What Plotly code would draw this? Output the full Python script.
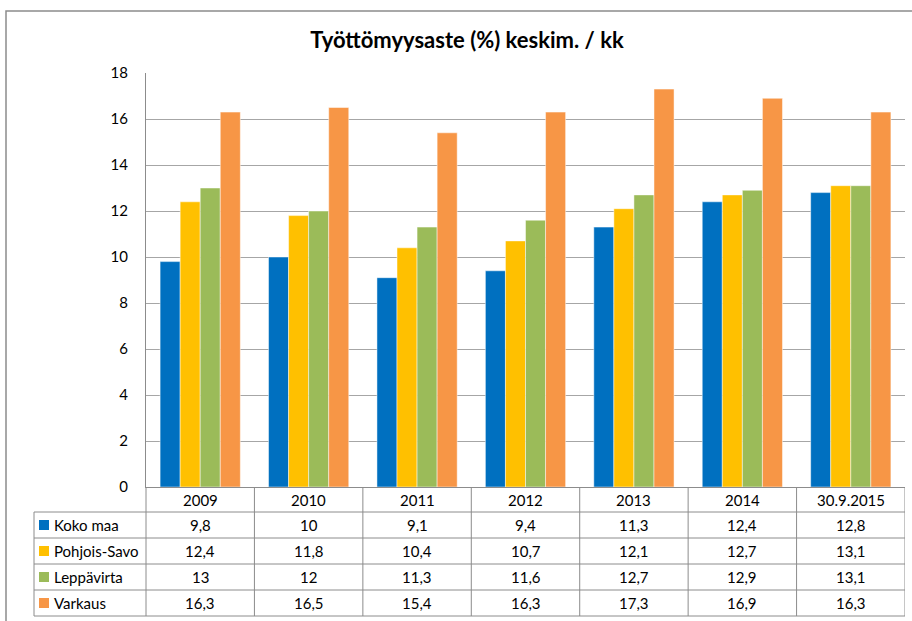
import plotly.graph_objects as go

# Työttömyysaste (%) keskimäärin kuukaudessa
vuodet = ['2009', '2010', '2011', '2012', '2013', '2014', '30.9.2015']
koko_maa = [9.8, 10, 9.1, 9.4, 11.3, 12.4, 12.8]
pohjois_savo = [12.4, 11.8, 10.4, 10.7, 12.1, 12.7, 13.1]
leppavirta = [13, 12, 11.3, 11.6, 12.7, 12.9, 13.1]
varkaus = [16.3, 16.5, 15.4, 16.3, 17.3, 16.9, 16.3]

sarjat = [
    ('Koko maa', koko_maa, '#0070C0'),
    ('Pohjois-Savo', pohjois_savo, '#FFC000'),
    ('Leppävirta', leppavirta, '#9BBB59'),
    ('Varkaus', varkaus, '#F79646'),
]

W, H = 912, 621
L, R, T, B = 146, 905, 73, 487   # piirtoalueen reunat pikseleinä
ROW_H = 26
TBL_LEFT = 34
FONT = 'Lato, Calibri, sans-serif'
GRID = '#A6A6A6'
TLINE = '#8C8C8C'


def py(px):
    # pikseli -> paper-y
    return (B - px) / (B - T)


def pxx(px):
    # pikseli -> paper-x
    return (px - L) / (R - L)


def fmt(v):
    return f'{v:g}'.replace('.', ',')


fig = go.Figure()
for nimi, arvot, vari in sarjat:
    fig.add_trace(go.Bar(
        x=vuodet, y=arvot, name=nimi,
        marker=dict(color=vari, line=dict(color='rgba(255,255,255,0.6)', width=0.8)),
        showlegend=False
    ))

shapes = []
annotations = []
tfont = dict(family=FONT, size=15, color='black')

# taulukon vaakaviivat
header_bottom = B + 25
rivi_y = [header_bottom + i * ROW_H for i in range(len(sarjat) + 1)]
for y in rivi_y:
    shapes.append(dict(type='line', xref='paper', yref='paper',
                       x0=pxx(TBL_LEFT), x1=1, y0=py(y), y1=py(y),
                       line=dict(color=TLINE, width=1)))
# pystyviivat
shapes.append(dict(type='line', xref='paper', yref='paper',
                   x0=pxx(TBL_LEFT), x1=pxx(TBL_LEFT), y0=py(header_bottom), y1=py(rivi_y[-1]),
                   line=dict(color=TLINE, width=1)))
shapes.append(dict(type='line', xref='paper', yref='paper',
                   x0=0, x1=0, y0=0, y1=py(rivi_y[-1]),
                   line=dict(color=TLINE, width=1)))
for k in range(len(vuodet)):
    shapes.append(dict(type='line', xref='x', yref='paper',
                       x0=k + 0.5, x1=k + 0.5, y0=0, y1=py(rivi_y[-1]),
                       line=dict(color=TLINE, width=1)))

# otsikkorivi (vuodet)
for k, v in enumerate(vuodet):
    annotations.append(dict(x=k, xref='x', y=py(B + 13), yref='paper', text=v,
                            xanchor='center', yanchor='middle', showarrow=False, font=tfont))

# datarivit + selitteet
for i, (nimi, arvot, vari) in enumerate(sarjat):
    yc = header_bottom + ROW_H * i + ROW_H / 2
    shapes.append(dict(type='rect', xref='paper', yref='paper',
                       x0=pxx(39), x1=pxx(49), y0=py(yc - 5), y1=py(yc + 5),
                       fillcolor=vari, line=dict(width=0)))
    annotations.append(dict(x=pxx(52), xref='paper', y=py(yc), yref='paper', text=nimi,
                            xanchor='left', yanchor='middle', showarrow=False, font=tfont))
    for k, a in enumerate(arvot):
        annotations.append(dict(x=k, xref='x', y=py(yc), yref='paper', text=fmt(a),
                                xanchor='center', yanchor='middle', showarrow=False, font=tfont))

# kaavion ulkoreunus
shapes.append(dict(type='rect', xref='paper', yref='paper',
                   x0=pxx(6), x1=pxx(930), y0=py(11), y1=py(640),
                   line=dict(color='#8C8C8C', width=1.5)))

fig.update_layout(
    width=W, height=H,
    margin=dict(l=L, r=W - R, t=T, b=H - B),
    paper_bgcolor='white', plot_bgcolor='white',
    barmode='group', bargap=0.26, bargroupgap=0,
    title=dict(text='<b>Työttömyysaste (%) keskim. / kk</b>',
               xref='container', x=467 / W, xanchor='center',
               yref='container', y=1 - 40 / H, yanchor='middle',
               font=dict(family=FONT, size=22, color='black')),
    font=tfont,
    shapes=shapes, annotations=annotations,
)
fig.update_xaxes(type='category', range=[-0.5, len(vuodet) - 0.5], showticklabels=False,
                 showline=True, linecolor=TLINE, linewidth=1, showgrid=False, ticks='')
fig.update_yaxes(range=[0, 18], dtick=2, showgrid=True, gridcolor=GRID, gridwidth=1.2,
                 showline=True, linecolor=TLINE, linewidth=1, zeroline=False,
                 ticks='', ticklabelstandoff=14, tickfont=tfont)

# sivun oletusmarginaali pois, jotta kuva alkaa kulmasta
fig.write_html('out.html', config={'displayModeBar': False},
               post_script="document.body.style.margin='0';document.body.style.overflow='hidden';")
